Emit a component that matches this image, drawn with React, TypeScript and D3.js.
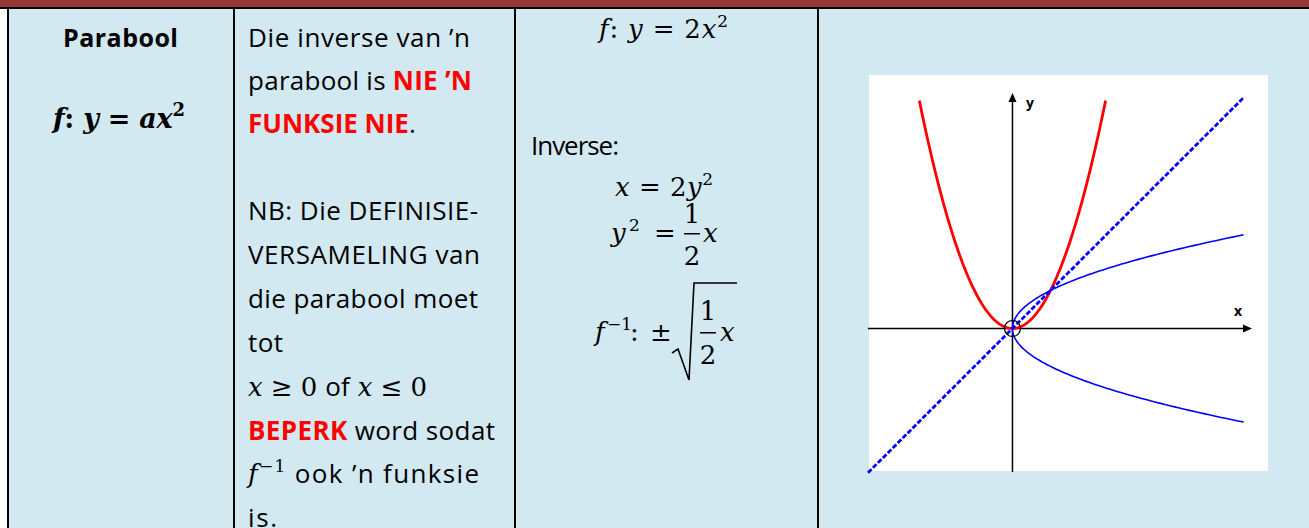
import React from 'react';
import * as d3 from 'd3';

// page + table layout
const W = 1309;
const H = 528;
const colEdges = [8, 234, 515, 818];
const cellFill = '#d2e9f1';
const headerFill = '#953735';

// graph window (units) and where it sits
const xDomain = [-1.9, 3.15];
const yDomain = [-1.89, 3.1];
const graphBox = { x: 869, y: 75, w: 399, h: 396 };

// f: y = a x^2 with a = 2, drawn up to y = 3
const coefA = 2;
const parabolaTop = 3;
// inverse x = 2y^2, drawn for x up to 3.04
const inverseRight = 3.04;
// y = x dashed line
const mirrorExtent = [-1.9, 3.03];

// column 2 lines: baseline + measured width in the original (0 = natural)
const col2Baselines = [47, 90, 133, 220, 264, 308, 352, 396, 440, 483, 527];
const col2Widths = [222, 224, 0, 230, 232, 230, 35, 179, 247, 231, 29];

const sans = "'Open Sans', 'Noto Sans', sans-serif";
const serif = "'DejaVu Serif', 'Liberation Serif', serif";

const Graph = () => {
  const x = d3.scaleLinear().domain(xDomain).range([868, 1252]);
  const y = d3.scaleLinear().domain(yDomain).range([472, 93]);

  const xMax = Math.sqrt(parabolaTop / coefA);
  const parabola = d3.range(-xMax, xMax + 1e-9, xMax / 80).map((t) => [t, coefA * t * t]);
  const yMax = Math.sqrt(inverseRight / coefA);
  const inverse = d3.range(-yMax, yMax + 1e-9, yMax / 80).map((t) => [coefA * t * t, t]);

  const line = d3.line<number[]>().x((d) => x(d[0])).y((d) => y(d[1]));

  const x0 = x(0);
  const y0 = y(0);
  const xEnd = x(xDomain[1]);
  const yEnd = y(yDomain[1]);

  return (
    <g>
      <rect x={graphBox.x} y={graphBox.y} width={graphBox.w} height={graphBox.h} fill="#fff" />
      {/* axes */}
      <line x1={x(xDomain[0])} y1={y0} x2={xEnd - 6} y2={y0} stroke="#000" strokeWidth={1.5} />
      <path d={`M${xEnd},${y0} L${xEnd - 9},${y0 - 4} L${xEnd - 9},${y0 + 4} Z`} fill="#000" />
      <line x1={x0} y1={y(yDomain[0])} x2={x0} y2={yEnd + 6} stroke="#000" strokeWidth={1.5} />
      <path d={`M${x0},${yEnd} L${x0 - 4},${yEnd + 9} L${x0 + 4},${yEnd + 9} Z`} fill="#000" />
      <text x={1026} y={108} fontFamily={sans} fontWeight="bold" fontSize={14}>y</text>
      <text x={1234} y={316} fontFamily={sans} fontWeight="bold" fontSize={14}>x</text>

      <path d={line(parabola) || ''} fill="none" stroke="#ff0000" strokeWidth={2.8} />
      <path d={line(inverse) || ''} fill="none" stroke="#0000ff" strokeWidth={1.6} />
      <line
        x1={x(mirrorExtent[0])} y1={y(mirrorExtent[0])}
        x2={x(mirrorExtent[1])} y2={y(mirrorExtent[1])}
        stroke="#0000ff" strokeWidth={2.8} strokeDasharray="5,2"
      />
      <circle cx={x0} cy={y0} r={8} fill="none" stroke="#000" strokeWidth={1.2} />
    </g>
  );
};

const App = () => {
  const red = '#ff0000';
  const it = { fontStyle: 'italic' as const };
  const col2 = (i: number) =>
    col2Widths[i]
      ? { x: 248, y: col2Baselines[i], textLength: col2Widths[i], lengthAdjust: 'spacing' }
      : { x: 248, y: col2Baselines[i] };
  return (
    <svg width={W} height={H} style={{ position: 'absolute', left: 0, top: 0 }}>
      <rect x={0} y={0} width={W} height={H} fill="#fff" />
      <rect x={colEdges[0]} y={8} width={W - colEdges[0]} height={H - 8} fill={cellFill} />
      <rect x={0} y={0} width={W} height={7} fill={headerFill} />
      <rect x={0} y={7} width={W} height={2} fill="#000" />
      {colEdges.map((cx, i) => (
        <rect key={i} x={cx - 1} y={8} width={2} height={H} fill="#000" />
      ))}

      {/* column 1 */}
      <text x={63} y={47} textLength={115} lengthAdjust="spacing" fontFamily={sans} fontWeight="bold" fontSize={25}>Parabool</text>
      <text x={53} y={128} textLength={132} lengthAdjust="spacing" fontFamily={serif} fontWeight="bold" fontSize={27}>
        <tspan {...it}>f</tspan>: <tspan {...it}>y</tspan> = <tspan {...it}>ax</tspan>
        <tspan fontSize={18} dy={-12}>2</tspan>
      </text>

      {/* column 2 */}
      <g fontFamily={sans} fontSize={26} fill="#000">
        <text {...col2(0)}>Die inverse van ’n</text>
        <text {...col2(1)}>parabool is <tspan fill={red} fontWeight="bold">NIE ’N</tspan></text>
        <text {...col2(2)}><tspan fill={red} fontWeight="bold">FUNKSIE NIE</tspan>.</text>
        <text {...col2(3)}>NB: Die DEFINISIE-</text>
        <text {...col2(4)}>VERSAMELING van</text>
        <text {...col2(5)}>die parabool moet</text>
        <text {...col2(6)}>tot</text>
        <text {...col2(7)}>
          <tspan fontFamily={serif} {...it}>x</tspan>
          <tspan fontFamily={serif}> ≥ 0 </tspan>of
          <tspan fontFamily={serif} {...it}> x</tspan>
          <tspan fontFamily={serif}> ≤ 0</tspan>
        </text>
        <text {...col2(8)}><tspan fill={red} fontWeight="bold">BEPERK</tspan> word sodat</text>
        <text {...col2(9)}>
          <tspan fontFamily={serif} {...it}>f</tspan>
          <tspan fontFamily={serif} fontSize={17} dy={-11}>−1</tspan>
          <tspan dy={11}> ook ’n funksie</tspan>
        </text>
        <text {...col2(10)}>is.</text>
      </g>

      {/* column 3 */}
      <g fontFamily={serif} fontSize={26} fill="#000">
        <text x={599} y={38} textLength={129} lengthAdjust="spacing">
          <tspan {...it}>f</tspan>: <tspan {...it}>y</tspan> = 2<tspan {...it}>x</tspan>
          <tspan fontSize={17} dy={-11}>2</tspan>
        </text>
        <text x={531} y={155} fontFamily={sans} fontSize={26} textLength={88} lengthAdjust="spacing">Inverse:</text>
        <text x={615} y={196} textLength={98} lengthAdjust="spacing">
          <tspan {...it}>x</tspan> = 2<tspan {...it}>y</tspan>
          <tspan fontSize={17} dy={-11}>2</tspan>
        </text>

        {/* y^2 = 1/2 x */}
        <text x={611} y={242} {...it}>y</text>
        <text x={629} y={231} fontSize={17}>2</text>
        <text x={654} y={242}>=</text>
        <text x={692} y={223} textAnchor="middle">1</text>
        <rect x={684} y={233} width={16} height={1.5} fill="#000" />
        <text x={692} y={265} textAnchor="middle">2</text>
        <text x={703} y={242} {...it}>x</text>

        {/* f^-1 : ± sqrt(1/2 x) */}
        <text x={595} y={341} {...it}>f</text>
        <text x={607} y={330} fontSize={17}>−1</text>
        <text x={630} y={341}>:</text>
        <text x={650} y={341}>±</text>
        <path d="M672,353 L678,349 L689,380 L694,283 L737,283" fill="none" stroke="#000" strokeWidth={1.6} />
        <text x={708} y={320} textAnchor="middle">1</text>
        <rect x={700} y={332} width={16} height={1.5} fill="#000" />
        <text x={708} y={364} textAnchor="middle">2</text>
        <text x={720} y={341} {...it}>x</text>
      </g>

      <Graph />
    </svg>
  );
};

export default App;
